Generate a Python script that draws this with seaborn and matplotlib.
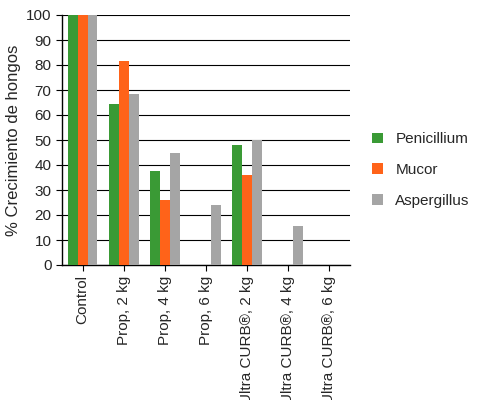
import matplotlib
matplotlib.use("Agg")
import matplotlib.pyplot as plt
import seaborn as sns
import pandas as pd
from matplotlib import font_manager

categories = ["Control", "Prop, 2 kg", "Prop, 4 kg", "Prop, 6 kg",
              "Ultra CURB®, 2 kg", "Ultra CURB®, 4 kg", "Ultra CURB®, 6 kg"]
penicillium = [100, 64.5, 37.5, 0, 48, 0, 0]
mucor = [100, 81.5, 26, 0, 36, 0, 0]
aspergillus = [100, 68.5, 45, 24, 50, 15.5, 0]
series = ["Penicillium", "Mucor", "Aspergillus"]
colors = ["#3a9a35", "#ff6319", "#a5a5a5"]

rows = []
for name, vals in zip(series, [penicillium, mucor, aspergillus]):
    for c, v in zip(categories, vals):
        rows.append({"cat": c, "serie": name, "val": v})
df = pd.DataFrame(rows)

sns.set_style("white")
names = {f.name for f in font_manager.fontManager.ttflist}
fam = "Liberation Sans Narrow" if "Liberation Sans Narrow" in names else "Liberation Sans"
plt.rcParams["font.family"] = [fam, "DejaVu Sans"]
fs = 13 if fam == "Liberation Sans Narrow" else 11
fig = plt.figure(figsize=(4.83, 4.0), dpi=100)
ax = fig.add_axes([62/483, 135/400, 288/483, 250/400])
sns.barplot(data=df, x="cat", y="val", hue="serie", palette=colors, saturation=1,
            width=0.72, ax=ax, edgecolor="none", zorder=3)
ax.set_ylim(0, 100)
ax.set_yticks(range(0, 101, 10))
ax.yaxis.grid(True, color="black", linewidth=0.8, zorder=0)
ax.set_axisbelow(True)
for s in ["top", "right"]:
    ax.spines[s].set_visible(False)
for s in ["left", "bottom"]:
    ax.spines[s].set_color("black")
    ax.spines[s].set_linewidth(1)
ax.set_xlabel("")
ax.set_ylabel("% Crecimiento de hongos", fontsize=fs + 1)
ax.tick_params(axis="y", labelsize=fs, left=True, length=4, color="black")
ax.tick_params(axis="x", labelsize=fs, rotation=90, bottom=True, length=4, color="black")
ax.legend(loc="center left", bbox_to_anchor=(1.03, 0.38), frameon=False,
          fontsize=fs, handlelength=0.7, handleheight=0.7, labelspacing=1.1)
fig.savefig("out.png", dpi=100)
